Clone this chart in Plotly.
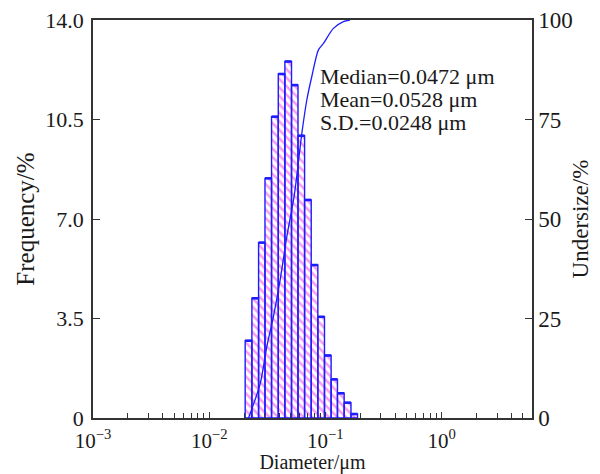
import plotly.graph_objects as go

# ---- data ----
bin_edges_um = [0.0204, 0.0233, 0.0266, 0.0302, 0.0344, 0.0393, 0.0448, 0.0511, 0.0581,
                0.0662, 0.0755, 0.0861, 0.0982, 0.112, 0.127, 0.145, 0.166, 0.189]
frequency_pct = [2.72, 4.21, 6.17, 8.43, 10.6, 12.1, 12.54, 11.71, 9.93, 7.67, 5.38,
                 3.56, 2.2, 1.36, 0.87, 0.54, 0.14]

undersize_d_um = [0.0218, 0.0275, 0.0313, 0.0357, 0.0408, 0.0466, 0.0540, 0.0627, 0.0692,
                  0.0764, 0.0871, 0.0962, 0.1172, 0.1429, 0.163]
undersize_pct = [0, 8.7, 17.9, 25.5, 34.7, 45.6, 56.0, 71.5, 79.9, 85.8, 92.5, 94.1,
                 97.9, 99.6, 100]

x_tick_vals = [0.001, 0.01, 0.1, 1]
x_tick_text = ["10<sup>−3</sup>", "10<sup>−2</sup>", "10<sup>−1</sup>", "10<sup>0</sup>"]
y_tick_vals = [0, 3.5, 7.0, 10.5, 14.0]
y_tick_text = ["0", "3.5", "7.0", "10.5", "14.0"]
y2_tick_vals = [0, 25, 50, 75, 100]
stats_lines = ["Median=0.0472 μm", "Mean=0.0528 μm", "S.D.=0.0248 μm"]

FONT = "Liberation Serif"
TXT = "#1a1a1a"
AX = "#333333"
BLUE = "#1c1cff"
PINK = "#f03ce0"

# build bar polygons from the bin edges and frequencies
px, py = [], []
tx, ty = [], []
for i, f in enumerate(frequency_pct):
    a, b = bin_edges_um[i], bin_edges_um[i + 1]
    px += [a, a, b, b, a, None]
    py += [0, f, f, 0, 0, None]
    tx += [a, b, None]
    ty += [f, f, None]

fig = go.Figure()
fig.add_trace(go.Scatter(
    x=px, y=py, mode="lines", fill="toself", fillcolor="white",
    fillpattern=dict(shape="\\", fgcolor=PINK, bgcolor="white", size=6, solidity=0.42),
    line=dict(color=BLUE, width=1.4), hoverinfo="skip", showlegend=False,
))
fig.add_trace(go.Scatter(
    x=tx, y=ty, mode="lines", line=dict(color=BLUE, width=2.6),
    hoverinfo="skip", showlegend=False,
))
fig.add_trace(go.Scatter(
    x=undersize_d_um, y=undersize_pct, mode="lines", yaxis="y2",
    line=dict(color=BLUE, width=1.3, shape="spline", smoothing=0.8),
    hoverinfo="skip", showlegend=False,
))

minor_vals = [k * 10.0 ** e for e in range(-3, 1) for k in range(2, 10)]

fig.update_layout(
    width=600, height=474,
    margin=dict(l=93, r=68, t=20, b=56),
    paper_bgcolor="white", plot_bgcolor="white",
    font=dict(family=FONT, color=TXT, size=22),
    xaxis=dict(
        type="log", range=[-3, 0.778], automargin=False,
        tickmode="array", tickvals=x_tick_vals, ticktext=x_tick_text,
        ticks="inside", ticklen=6, tickwidth=1.2, tickcolor=AX,
        minor=dict(tickmode="array", tickvals=minor_vals, ticks="inside",
                   ticklen=5, tickwidth=1.2, tickcolor=AX, showgrid=False),
        showline=True, linecolor=AX, linewidth=1.5, mirror=True,
        showgrid=False, zeroline=False, ticklabelstandoff=3,
        tickfont=dict(size=21, family=FONT, color=TXT),
        title=dict(text="Diameter/μm", font=dict(size=20, family=FONT, color=TXT), standoff=0),
    ),
    yaxis=dict(
        range=[0, 14], tickmode="array", tickvals=y_tick_vals, ticktext=y_tick_text,
        automargin=False, ticklabelstandoff=3,
        ticks="inside", ticklen=7, tickwidth=1.2, tickcolor=AX,
        showline=True, linecolor=AX, linewidth=1.5,
        showgrid=False, zeroline=False,
        tickfont=dict(size=22, family=FONT, color=TXT),
        title=dict(text="Frequency/%", font=dict(size=25, family=FONT, color=TXT), standoff=4),
    ),
    yaxis2=dict(
        range=[0, 100], overlaying="y", side="right", automargin=False,
        tickmode="array", tickvals=y2_tick_vals,
        ticks="inside", ticklen=7, tickwidth=1.2, tickcolor=AX,
        showline=True, linecolor=AX, linewidth=1.5,
        showgrid=False, zeroline=False,
        tickfont=dict(size=23, family=FONT, color=TXT),
        title=dict(text="Undersize/%", font=dict(size=23, family=FONT, color=TXT), standoff=0),
    ),
)

line_y = [0.857, 0.8, 0.743]
for t, yy in zip(stats_lines, line_y):
    fig.add_annotation(
        text=t, xref="paper", yref="paper", x=0.5125, y=yy,
        xanchor="left", yanchor="middle", showarrow=False,
        font=dict(size=22, family=FONT, color=TXT),
    )

fig.write_html("out.html",
               config={"displayModeBar": False},
               post_script="document.body.style.margin='0';document.body.style.padding='0';")
